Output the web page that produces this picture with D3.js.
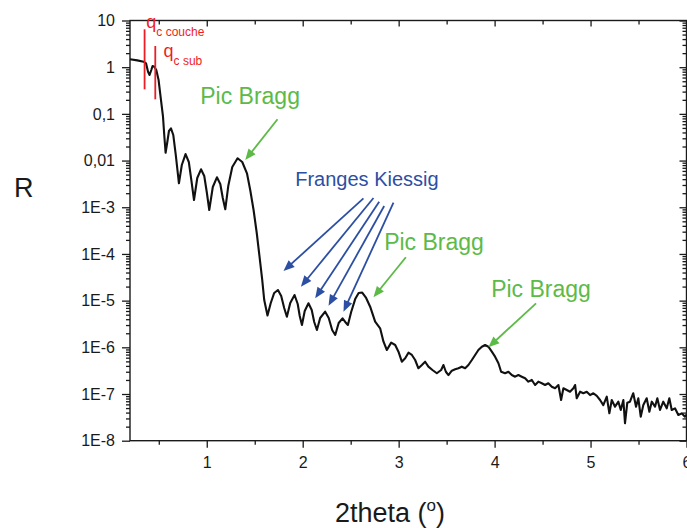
<!DOCTYPE html>
<html><head><meta charset="utf-8">
<script src="https://cdn.jsdelivr.net/npm/d3@7"></script>
<style>body{margin:0;background:#fff}svg{display:block;font-family:Arial,"Liberation Sans",sans-serif}</style>
</head><body><svg id="c" width="687" height="528"></svg>
<script>
// ---- data ----
const theta = [0.2,0.276,0.342,0.367,0.388,0.404,0.422,0.435,0.453,0.474,
0.498,0.523,0.544,0.557,0.571,0.589,0.606,0.627,0.651,0.677,
0.710,0.740,0.779,0.813,0.839,0.867,0.901,0.940,0.974,1.000,
1.026,1.063,1.106,1.141,1.167,1.193,1.224,1.266,1.321,1.370,
1.419,1.453,1.488,1.521,1.550,1.578,1.599,1.633,1.667,1.703,
1.742,1.776,1.807,1.835,1.870,1.915,1.948,1.969,1.992,2.021,
2.060,2.094,2.120,2.148,2.182,2.234,2.271,2.307,2.339,2.375,
2.415,2.443,2.471,2.505,2.547,2.583,2.620,2.661,2.703,2.755,
2.807,2.842,2.877,2.922,2.964,2.998,3.033,3.068,3.102,3.138,
3.172,3.206,3.242,3.276,3.310,3.352,3.398,3.443,3.467,3.492,
3.519,3.554,3.589,3.623,3.658,3.693,3.727,3.763,3.797,3.831,
3.867,3.901,3.935,3.971,4.005,4.040,4.068,4.109,4.144,4.179,
4.214,4.248,4.283,4.318,4.352,4.388,4.422,4.456,4.492,4.526,
4.560,4.596,4.630,4.665,4.693,4.717,4.752,4.786,4.821,4.839,
4.856,4.891,4.925,4.960,4.995,5.029,5.065,5.099,5.133,5.169,
5.196,5.221,5.255,5.290,5.315,5.342,5.359,5.383,5.411,5.445,
5.474,5.498,5.523,5.550,5.585,5.613,5.638,5.672,5.696,5.724,
5.758,5.794,5.821,5.846,5.880,5.915,5.950,5.984,6.0];
const reflectivity = [1.48,1.40,1.31,1.21,0.80,0.68,0.87,1.06,1.02,0.87,
0.53,0.198,0.087,0.0353,0.0147,0.025,0.043,0.049,0.0353,0.0132,
0.00326,0.00804,0.0138,0.00932,0.00384,0.00143,0.00423,0.0065,0.00467,0.00212,
0.000874,0.00272,0.00438,0.00315,0.00158,0.000904,0.00285,0.00729,0.0112,0.00932,
0.00534,0.00234,0.000874,0.000281,8.73e-5,2.77e-5,1.03e-5,4.8e-6,8.9e-6,1.46e-5,
1.69e-5,1.26e-5,6.96e-6,4.53e-6,8.9e-6,1.32e-5,8.47e-6,4.69e-6,3.01e-6,6.0e-6,
8.77e-6,6.3e-6,3.49e-6,2.35e-6,4.25e-6,5.8e-6,4.25e-6,2.35e-6,1.84e-6,3.32e-6,
4.18e-6,3.49e-6,3.01e-6,5.71e-6,1.08e-5,1.46e-5,1.49e-5,1.14e-5,7.42e-6,3.54e-6,
2.56e-6,1.32e-6,8.77e-7,1.26e-6,1.12e-6,8.06e-7,4.92e-7,5.82e-7,7.67e-7,6.85e-7,
5.35e-7,3.56e-7,4.18e-7,4.92e-7,3.85e-7,3.27e-7,2.78e-7,3.27e-7,4.18e-7,3.0e-7,
2.55e-7,3.16e-7,3.38e-7,3.56e-7,3.85e-7,3.56e-7,4.18e-7,5.35e-7,6.85e-7,8.77e-7,
1.03e-6,1.12e-6,1.03e-6,8.06e-7,6.3e-7,4.55e-7,3.0e-7,2.78e-7,3.0e-7,2.55e-7,
2.35e-7,2.55e-7,2.35e-7,2.17e-7,1.84e-7,2.0e-7,1.56e-7,1.84e-7,1.7e-7,1.56e-7,
1.7e-7,1.43e-7,1.33e-7,1.56e-7,7.44e-8,1.33e-7,1.22e-7,1.12e-7,1.33e-7,1.56e-7,
8.1e-8,1.12e-7,1.04e-7,1.12e-7,9.5e-8,1.04e-7,9.1e-8,7.44e-8,5.8e-8,8.8e-8,
3.86e-8,7.44e-8,5.35e-8,6.85e-8,4.55e-8,7.44e-8,2.36e-8,6.52e-8,6.85e-8,1.04e-7,
5.35e-8,8.1e-8,3.27e-8,5.8e-8,8.1e-8,4.18e-8,6.85e-8,5.35e-8,8.1e-8,4.55e-8,
6.85e-8,4.94e-8,8.1e-8,4.55e-8,4.94e-8,3.55e-8,3.86e-8,3.27e-8,3.6e-8];

const xTicks = [1,2,3,4,5,6];
const xMinorTicks = [0.5,1.5,2.5,3.5,4.5,5.5];
const yTicks = [10,1,0.1,0.01,1e-3,1e-4,1e-5,1e-6,1e-7,1e-8];
const yTickLabels = ["10","1","0,1","0,01","1E-3","1E-4","1E-5","1E-6","1E-7","1E-8"];

// annotations (data coordinates)
const qcX = [0.352, 0.4635];
const qcLow = [0.336, 0.205];
const qcHigh = [6.48, 2.84];
const qcLabelX = [0.370, 0.55];
const qcLabelR = [7.08, 1.69];
const qcSubText = ["c couche", "c sub"];

const braggLabelX = [0.932, 2.849, 3.964];
const braggLabelR = [0.159, 1.215e-4, 1.21e-5];
const braggFrom = [[1.7375,0.0766],[3.075,8.48e-5],[4.432,8.77e-6]];
const braggTo = [[1.401,0.01028],[2.7375,1.18e-5],[3.935,1.0e-6]];

const kiessigLabel = [1.922, 2.85e-3];
const kiessigFrom = [[2.633,1.556e-3],[2.7375,1.58e-3],[2.797,1.315e-3],[2.849,1.064e-3],[2.946,1.252e-3]];
const kiessigTo = [[1.8,4.31e-5],[1.981,1.99e-5],[2.130,1.12e-5],[2.269,7.79e-6],[2.425,5.8e-6]];

// ---- drawing ----
const svg = d3.select("#c");
const L = 130, R = 686.5, T = 20.5, B = 440.7;
const x = d3.scaleLinear().domain([0.2, 6]).range([L, R]);
const y = d3.scaleLog().domain([1e-8, 10]).range([B, T]);
const axisColor = "#1a1a1a";

const yMinor = [];
for (let e = -8; e < 1; e++) for (let m = 2; m <= 9; m++) yMinor.push(m * Math.pow(10, e));

function styleAxis(g){
  g.select(".domain").remove();
  g.selectAll(".tick line").attr("stroke", axisColor).attr("stroke-width", 1.3);
  g.selectAll("text").attr("fill", "#1a1a1a").attr("font-size", 16)
   .attr("font-family", "Arial, 'Liberation Sans', sans-serif");
}

// left axis
svg.append("g").attr("transform", `translate(${L},0)`)
  .call(d3.axisLeft(y).tickValues(yTicks).tickFormat((d,i)=>yTickLabels[i]).tickSize(8).tickPadding(7))
  .call(styleAxis);
svg.append("g").attr("transform", `translate(${L},0)`)
  .call(d3.axisLeft(y).tickValues(yMinor).tickFormat("").tickSize(4)).call(styleAxis);
// right axis (inward)
svg.append("g").attr("transform", `translate(${R},0)`)
  .call(d3.axisLeft(y).tickValues(yTicks).tickFormat("").tickSize(7)).call(styleAxis);
svg.append("g").attr("transform", `translate(${R},0)`)
  .call(d3.axisLeft(y).tickValues(yMinor).tickFormat("").tickSize(4)).call(styleAxis);
// bottom axis
svg.append("g").attr("transform", `translate(0,${B})`)
  .call(d3.axisBottom(x).tickValues(xTicks).tickFormat(d3.format("d")).tickSize(7).tickPadding(9))
  .call(styleAxis);
svg.append("g").attr("transform", `translate(0,${B})`)
  .call(d3.axisBottom(x).tickValues(xMinorTicks).tickFormat("").tickSize(4)).call(styleAxis);
// top axis (inward)
svg.append("g").attr("transform", `translate(0,${T})`)
  .call(d3.axisBottom(x).tickValues(xTicks).tickFormat("").tickSize(6)).call(styleAxis);
svg.append("g").attr("transform", `translate(0,${T})`)
  .call(d3.axisBottom(x).tickValues(xMinorTicks).tickFormat("").tickSize(4)).call(styleAxis);

// frame
svg.append("rect").attr("x", L).attr("y", T).attr("width", R - L).attr("height", B - T)
  .attr("fill", "none").attr("stroke", axisColor).attr("stroke-width", 1.4);

// curve
const pts = theta.map((t, i) => [t, reflectivity[i]]);
svg.append("path").datum(pts)
  .attr("d", d3.line().x(d => x(d[0])).y(d => y(d[1])))
  .attr("fill", "none").attr("stroke", "#111").attr("stroke-width", 2.1)
  .attr("stroke-linejoin", "round");

// axis titles
svg.append("text").attr("x", 14).attr("y", 197).attr("font-size", 27).attr("fill", "#1a1a1a").text("R");
const xt = svg.append("text").attr("x", 390).attr("y", 522).attr("text-anchor", "middle")
  .attr("font-size", 27).attr("fill", "#1a1a1a");
xt.append("tspan").text("2theta (");
xt.append("tspan").attr("font-size", 17).attr("dy", -11).text("o");
xt.append("tspan").attr("dy", 11).text(")");

// qc markers
const red = "#ee1d25";
qcX.forEach((q, i) => {
  svg.append("line").attr("x1", x(q)).attr("x2", x(q)).attr("y1", y(qcLow[i])).attr("y2", y(qcHigh[i]))
    .attr("stroke", red).attr("stroke-width", 1.8);
  const t = svg.append("text").attr("x", x(qcLabelX[i])).attr("y", y(qcLabelR[i])).attr("fill", red).attr("font-size", 18);
  t.append("tspan").text("q");
  t.append("tspan").attr("font-size", 12).attr("dy", 8).text(qcSubText[i]);
});

// arrows
function arrow(from, to, color){
  const x1 = x(from[0]), y1 = y(from[1]), x2 = x(to[0]), y2 = y(to[1]);
  const dx = x2 - x1, dy = y2 - y1, len = Math.hypot(dx, dy);
  const ux = dx / len, uy = dy / len, hl = 11, hw = 4.5;
  const bx = x2 - ux * hl, by = y2 - uy * hl;
  svg.append("line").attr("x1", x1).attr("y1", y1).attr("x2", bx + ux * 2).attr("y2", by + uy * 2)
    .attr("stroke", color).attr("stroke-width", 1.8);
  svg.append("path").attr("d", `M${x2},${y2}L${bx - uy * hw},${by + ux * hw}L${bx + uy * hw},${by - ux * hw}Z`)
    .attr("fill", color);
}
const green = "#5dba47", blue = "#2c4fa3";
braggLabelX.forEach((bxv, i) => {
  svg.append("text").attr("x", x(bxv)).attr("y", y(braggLabelR[i])).attr("fill", green)
    .attr("font-size", 23).text("Pic Bragg");
  arrow(braggFrom[i], braggTo[i], green);
});
svg.append("text").attr("x", x(kiessigLabel[0])).attr("y", y(kiessigLabel[1])).attr("fill", blue)
  .attr("font-size", 20).text("Franges Kiessig");
kiessigFrom.forEach((f, i) => arrow(f, kiessigTo[i], blue));
</script>
</body></html>
